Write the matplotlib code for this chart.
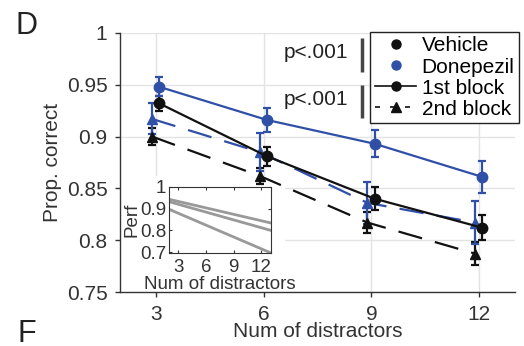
import matplotlib.pyplot as plt
from matplotlib.lines import Line2D
from matplotlib.patches import Rectangle

plt.rcParams['font.family'] = ['Liberation Sans', 'DejaVu Sans']

# data
distractors = [3, 6, 9, 12]
veh_1st = [0.932, 0.881, 0.840, 0.812]
veh_1st_err = [0.007, 0.009, 0.011, 0.012]
don_1st = [0.948, 0.916, 0.893, 0.861]
don_1st_err = [0.009, 0.012, 0.013, 0.015]
veh_2nd = [0.900, 0.862, 0.817, 0.787]
veh_2nd_err = [0.008, 0.008, 0.010, 0.011]
don_2nd = [0.917, 0.885, 0.836, 0.817]
don_2nd_err = [0.015, 0.018, 0.020, 0.021]

# inset model lines
inset_x = [2, 13]
inset_lines = [[0.942, 0.834], [0.931, 0.800], [0.896, 0.697]]

blue = '#3050a8'
black = '#111111'
fs = 15

fig = plt.figure(figsize=(5.24, 3.46), dpi=100)
ax = fig.add_axes([0.229, 0.156, 0.754, 0.749])

ax.set_axisbelow(True)
ax.grid(True, color='#e3e3e3', linewidth=1)
ax.add_patch(Rectangle((2.0, 0.75), 4.6, 0.112, facecolor='white', edgecolor='none', zorder=1))

def series(y, err, color, marker, ls, dx):
    xs = [x + dx for x in distractors]
    line = ax.errorbar(xs, y, yerr=err, color=color, marker=marker, markersize=7.5,
                       linewidth=1.6, capsize=3, elinewidth=1.6, capthick=1.6, zorder=3)
    if ls == '--':
        line[0].set_dashes([11, 6])

series(veh_2nd, veh_2nd_err, black, '^', '--', -0.11)
series(don_2nd, don_2nd_err, blue, '^', '--', -0.11)
series(veh_1st, veh_1st_err, black, 'o', '-', 0.09)
series(don_1st, don_1st_err, blue, 'o', '-', 0.09)

ax.set_xlim(2, 13)
ax.set_ylim(0.75, 1.0)
ax.set_xticks(distractors)
ax.set_yticks([0.75, 0.8, 0.85, 0.9, 0.95, 1.0])
ax.set_yticklabels(['0.75', '0.8', '0.85', '0.9', '0.95', '1'])
ax.tick_params(labelsize=fs, colors='#333333', length=3.5, width=1, pad=5.5)
for s in ['top', 'right']:
    ax.spines[s].set_visible(False)
for s in ['left', 'bottom']:
    ax.spines[s].set_color('#333333')
    ax.spines[s].set_linewidth(1)
ax.set_xlabel('Num of distractors', fontsize=fs, color='#333333')
ax.set_ylabel('Prop. correct', fontsize=fs, color='#333333')
ax.xaxis.set_label_coords(0.5, -0.115)
ax.yaxis.set_label_coords(-0.147, 0.5)

# significance marks
for ty, (y0, y1) in zip([0.981, 0.936], [(0.995, 0.9625), (0.95, 0.918)]):
    ax.text(8.36, ty, 'p<.001', fontsize=fs, ha='right', va='center', color='#222222')
    ax.plot([8.73, 8.73], [y0, y1], color='#444444', linewidth=2.5, solid_capstyle='butt', clip_on=False)

handles = [
    Line2D([], [], color=black, marker='o', linestyle='none', markersize=6.5),
    Line2D([], [], color=blue, marker='o', linestyle='none', markersize=6.5),
    Line2D([], [], color=black, marker='o', linestyle='-', markersize=6.5, linewidth=1.2),
    Line2D([], [], color=black, marker='^', linestyle='--', markersize=6.5, linewidth=1.2, dashes=[3, 6]),
]
leg = ax.legend(handles, ['Vehicle', 'Donepezil', '1st block', '2nd block'], loc='upper right',
                bbox_to_anchor=(1.01, 1.004), borderaxespad=0, fontsize=fs, labelspacing=0.1,
                handletextpad=0.25, handlelength=2.0, borderpad=0.22, fancybox=False, framealpha=1)
leg.get_frame().set_edgecolor('#222222')
leg.get_frame().set_linewidth(1)

# inset
ins = fig.add_axes([0.323, 0.268, 0.1935, 0.1925])
for ys in inset_lines:
    ins.plot(inset_x, ys, color='#999999', linewidth=2)
ins.set_xlim(2, 13)
ins.set_ylim(0.695, 1.0)
ins.set_xticks([3, 6, 9, 12])
ins.set_yticks([0.7, 0.8, 0.9, 1.0])
ins.set_yticklabels(['0.7', '0.8', '0.9', '1'])
ins.tick_params(direction='in', top=True, right=True, labelsize=13.5, colors='#333333', length=2.5, pad=2)
ins.tick_params(axis='x', pad=4)
for s in ins.spines.values():
    s.set_color('#333333')
ins.set_xlabel('Num of distractors', fontsize=13.5, color='#333333', labelpad=0)
ins.set_ylabel('Perf', fontsize=13.5, color='#333333')
ins.yaxis.set_label_coords(-0.28, 0.5)

fig.text(0.03, 0.902, 'D', fontsize=22, color='#222222')
fig.text(0.033, 0.012, 'F', fontsize=22, color='#222222')

fig.savefig('out.png', dpi=100)
